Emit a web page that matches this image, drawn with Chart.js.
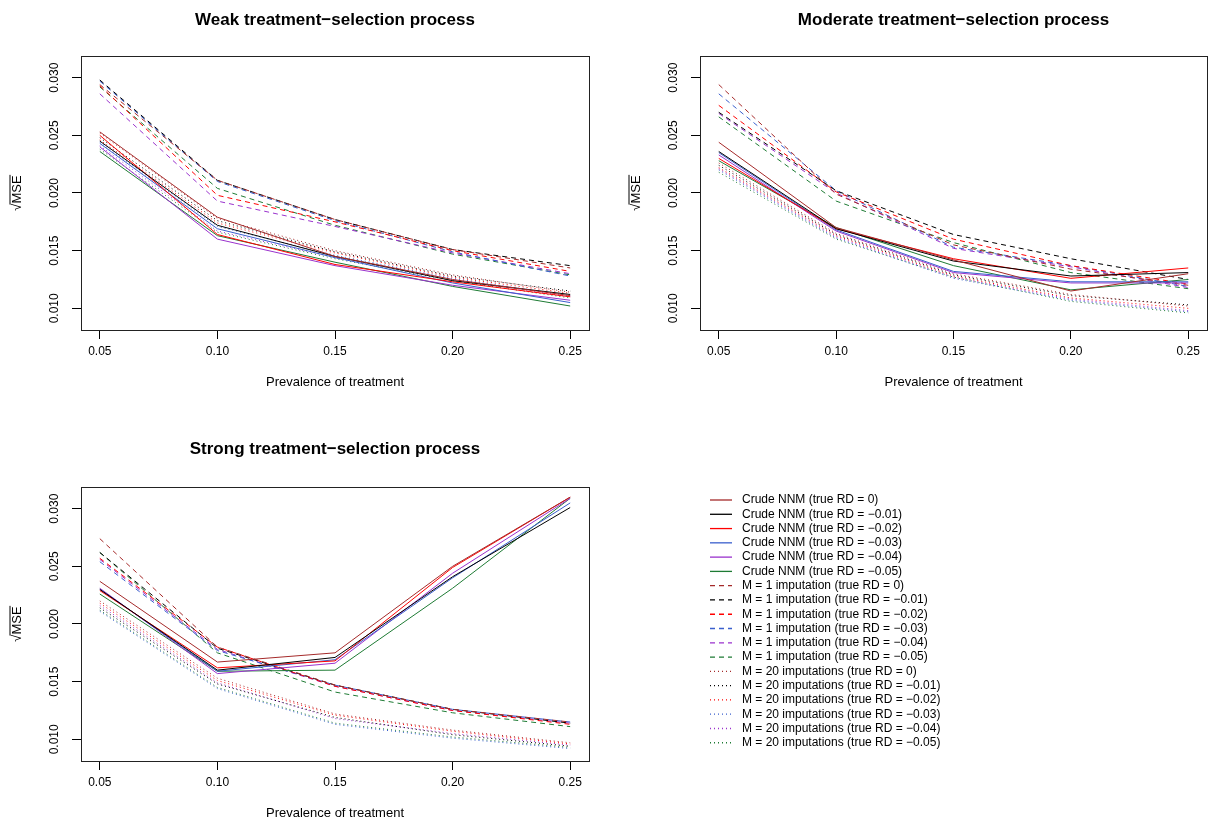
<!DOCTYPE html>
<html><head><meta charset="utf-8">
<script src="https://cdn.jsdelivr.net/npm/chart.js@4.4.1/dist/chart.umd.min.js"></script>
<style>
html,body{margin:0;padding:0;background:#fff;}
#wrap{position:relative;width:1211px;height:822px;overflow:hidden;background:#fff;}
canvas{position:absolute;}
</style></head><body>
<div id="wrap">
<canvas id="c1" width="605" height="411" style="left:0px;top:0px;width:605px;height:411px"></canvas>
<canvas id="c2" width="606" height="411" style="left:605px;top:0px;width:606px;height:411px"></canvas>
<canvas id="c3" width="1211" height="411" style="left:0px;top:411px;width:1211px;height:411px"></canvas>
</div>
<script>
// ---------------- data ----------------
const prevalence = [0.05, 0.10, 0.15, 0.20, 0.25];
const xTickValues = [0.05, 0.10, 0.15, 0.20, 0.25];
const xTickLabels = ["0.05", "0.10", "0.15", "0.20", "0.25"];
const yTickValues = [0.010, 0.015, 0.020, 0.025, 0.030];
const yTickLabels = ["0.010", "0.015", "0.020", "0.025", "0.030"];
const trueRD = ["0", "\u22120.01", "\u22120.02", "\u22120.03", "\u22120.04", "\u22120.05"];
const methodNames = ["Crude NNM", "M = 1 imputation", "M = 20 imputations"];
const panelTitles = ["Weak treatment\u2212selection process", "Moderate treatment\u2212selection process", "Strong treatment\u2212selection process"];

// rows: true RD = 0, -0.01, -0.02, -0.03, -0.04, -0.05
const weakCrude = [
  [0.0253, 0.0179, 0.0145, 0.0125, 0.0111],
  [0.0245, 0.0172, 0.0145, 0.0124, 0.0112],
  [0.0250, 0.0164, 0.0138, 0.0123, 0.0110],
  [0.0243, 0.0169, 0.0144, 0.0122, 0.0105],
  [0.0240, 0.0160, 0.0137, 0.0120, 0.0107],
  [0.0236, 0.0163, 0.0140, 0.0119, 0.0102]
];
const weakM1 = [
  [0.0294, 0.0211, 0.0177, 0.0151, 0.0135],
  [0.0298, 0.0211, 0.0177, 0.0151, 0.0137],
  [0.0293, 0.0198, 0.0175, 0.0150, 0.0132],
  [0.0297, 0.0210, 0.0176, 0.0149, 0.0128],
  [0.0286, 0.0193, 0.0171, 0.0148, 0.0130],
  [0.0292, 0.0204, 0.0172, 0.0147, 0.0129]
];
const weakM20 = [
  [0.0252, 0.0178, 0.0150, 0.0129, 0.0114],
  [0.0248, 0.0176, 0.0149, 0.0128, 0.0115],
  [0.0246, 0.0174, 0.0148, 0.0127, 0.0113],
  [0.0244, 0.0171, 0.0146, 0.0126, 0.0111],
  [0.0241, 0.0167, 0.0144, 0.0125, 0.0110],
  [0.0238, 0.0166, 0.0143, 0.0124, 0.0109]
];
const moderateCrude = [
  [0.0244, 0.0170, 0.0142, 0.0115, 0.0130],
  [0.0236, 0.0169, 0.0141, 0.0128, 0.0131],
  [0.0230, 0.0169, 0.0143, 0.0126, 0.0135],
  [0.0235, 0.0168, 0.0132, 0.0123, 0.0123],
  [0.0233, 0.0167, 0.0131, 0.0122, 0.0122],
  [0.0228, 0.0170, 0.0137, 0.0116, 0.0125]
];
const moderateM1 = [
  [0.0294, 0.0199, 0.0155, 0.0134, 0.0120],
  [0.0270, 0.0202, 0.0164, 0.0143, 0.0125],
  [0.0276, 0.0201, 0.0160, 0.0137, 0.0121],
  [0.0286, 0.0202, 0.0153, 0.0137, 0.0119],
  [0.0269, 0.0200, 0.0152, 0.0136, 0.0118],
  [0.0266, 0.0193, 0.0157, 0.0131, 0.0117]
];
const moderateM20 = [
  [0.0226, 0.0165, 0.0130, 0.0112, 0.0102],
  [0.0224, 0.0164, 0.0129, 0.0111, 0.0103],
  [0.0222, 0.0163, 0.0128, 0.0109, 0.0100],
  [0.0220, 0.0161, 0.0126, 0.0107, 0.0097],
  [0.0221, 0.0162, 0.0127, 0.0108, 0.0098],
  [0.0218, 0.0160, 0.0127, 0.0106, 0.0096]
];
const strongCrude = [
  [0.0237, 0.0167, 0.0175, 0.0250, 0.0310],
  [0.0230, 0.0160, 0.0171, 0.0241, 0.0301],
  [0.0229, 0.0162, 0.0168, 0.0249, 0.0310],
  [0.0230, 0.0159, 0.0169, 0.0240, 0.0305],
  [0.0231, 0.0157, 0.0166, 0.0244, 0.0309],
  [0.0226, 0.0159, 0.0160, 0.0231, 0.0309]
];
const strongM1 = [
  [0.0274, 0.0180, 0.0147, 0.0126, 0.0115],
  [0.0262, 0.0179, 0.0147, 0.0126, 0.0114],
  [0.0257, 0.0180, 0.0146, 0.0125, 0.0113],
  [0.0254, 0.0177, 0.0147, 0.0126, 0.0115],
  [0.0256, 0.0178, 0.0146, 0.0125, 0.0114],
  [0.0262, 0.0175, 0.0141, 0.0123, 0.0111]
];
const strongM20 = [
  [0.0220, 0.0153, 0.0122, 0.0108, 0.0097],
  [0.0214, 0.0148, 0.0119, 0.0104, 0.0094],
  [0.0218, 0.0151, 0.0121, 0.0107, 0.0096],
  [0.0211, 0.0144, 0.0113, 0.0101, 0.0092],
  [0.0216, 0.0149, 0.0118, 0.0105, 0.0095],
  [0.0212, 0.0145, 0.0114, 0.0102, 0.0093]
];

// ---------------- styles ----------------
const seriesColors = ["#A52A2A", "#000000", "#FF0000", "#3A5FCD", "#9A32CD", "#1E7B34"];
const methodDashes = [[], [5, 4], [1, 3]];
const FONT = '"Liberation Sans", Arial, Helvetica, sans-serif';

function buildDatasets(groups) {
  const ds = [];
  groups.forEach((rows, m) => {
    rows.forEach((vals, r) => {
      ds.push({
        label: methodNames[m] + " (true RD = " + trueRD[r] + ")",
        data: prevalence.map((x, i) => ({ x: x, y: vals[i] })),
        borderColor: seriesColors[r],
        backgroundColor: seriesColors[r],
        borderDash: methodDashes[m],
        borderWidth: 1,
        pointRadius: 0,
        fill: false,
        tension: 0
      });
    });
  });
  return ds;
}

const rFrame = {
  id: 'rFrame',
  afterDraw(chart, args, o) {
    const { ctx, chartArea: a } = chart;
    ctx.save();
    ctx.strokeStyle = '#222';
    ctx.lineWidth = 1;
    ctx.setLineDash([]);
    ctx.strokeRect(Math.round(a.left) + 0.5, Math.round(a.top) + 0.5, Math.round(a.right - a.left), Math.round(a.bottom - a.top));
    ctx.fillStyle = '#000';
    // main title
    ctx.font = 'bold 17px ' + FONT;
    ctx.textAlign = 'center';
    ctx.textBaseline = 'middle';
    ctx.fillText(o.title, (a.left + a.right) / 2, o.titleY);
    // y tick labels (rotated, R style)
    const ys = chart.scales.y;
    ctx.font = '12px ' + FONT;
    yTickValues.forEach((v, i) => {
      const py = ys.getPixelForValue(v);
      ctx.save();
      ctx.translate(a.left - 26, py);
      ctx.rotate(-Math.PI / 2);
      ctx.fillText(yTickLabels[i], 0, 0);
      ctx.restore();
    });
    // y axis title: sqrt(MSE)
    const cy = (a.top + a.bottom) / 2;
    ctx.save();
    ctx.translate(a.left - 64, cy);
    ctx.rotate(-Math.PI / 2);
    ctx.font = '13px ' + FONT;
    const wR = ctx.measureText('\u221A').width;
    const wM = ctx.measureText('MSE').width;
    const w = wR + wM;
    ctx.textAlign = 'left';
    ctx.fillText('\u221A', -w / 2, 0);
    ctx.fillText('MSE', -w / 2 + wR, 0);
    ctx.lineWidth = 1;
    ctx.strokeStyle = '#000';
    ctx.beginPath();
    ctx.moveTo(-w / 2 + wR - 1, -7);
    ctx.lineTo(w / 2 + 0.5, -7);
    ctx.stroke();
    ctx.restore();
    // legend
    if (o.legend) {
      const L = o.legend;
      ctx.font = '12px ' + FONT;
      ctx.textAlign = 'left';
      ctx.textBaseline = 'middle';
      chart.data.datasets.forEach((d, i) => {
        const y = L.y0 + i * L.dy;
        ctx.strokeStyle = d.borderColor;
        ctx.lineWidth = 1.3;
        ctx.setLineDash(d.borderDash);
        ctx.beginPath();
        ctx.moveTo(L.x0, y);
        ctx.lineTo(L.x1, y);
        ctx.stroke();
        ctx.setLineDash([]);
        ctx.fillStyle = '#000';
        ctx.fillText(d.label, L.tx, y);
      });
    }
    ctx.restore();
  }
};

function makePanel(id, title, groups, box) {
  const canvas = document.getElementById(id);
  return new Chart(canvas, {
    type: 'line',
    data: { datasets: buildDatasets(groups) },
    plugins: [rFrame],
    options: {
      responsive: false,
      animation: false,
      devicePixelRatio: 1,
      layout: { padding: { left: 0, top: box.T, right: box.W - box.R, bottom: 0 } },
      plugins: {
        legend: { display: false },
        title: { display: false },
        tooltip: { enabled: false },
        rFrame: { title: title, titleY: box.titleY, legend: box.legend }
      },
      scales: {
        x: {
          type: 'linear',
          min: 0.042, max: 0.258,
          afterBuildTicks: s => { s.ticks = xTickValues.map(v => ({ value: v })); },
          afterFit: s => { s.height = box.H - box.B; },
          ticks: {
            autoSkip: false, maxRotation: 0, minRotation: 0,
            padding: 5, color: '#000',
            font: { size: 12, family: FONT },
            callback: (v, i) => xTickLabels[i]
          },
          grid: { display: true, drawOnChartArea: false, drawTicks: true, tickLength: 9, color: '#000', lineWidth: 1 },
          border: { display: false },
          title: { display: true, text: 'Prevalence of treatment', color: '#000', font: { size: 13, family: FONT }, padding: { top: 0, bottom: box.xTitlePad } }
        },
        y: {
          type: 'linear',
          min: 0.00812, max: 0.03188,
          afterBuildTicks: s => { s.ticks = yTickValues.map(v => ({ value: v })); },
          afterFit: s => { s.width = box.L; },
          ticks: { display: false },
          grid: { display: true, drawOnChartArea: false, drawTicks: true, tickLength: 9, color: '#000', lineWidth: 1 },
          border: { display: false }
        }
      }
    }
  });
}

makePanel('c1', panelTitles[0], [weakCrude, weakM1, weakM20],
  { W: 605, H: 411, L: 81, R: 589, T: 56, B: 330, titleY: 20, xTitlePad: 21 });
makePanel('c2', panelTitles[1], [moderateCrude, moderateM1, moderateM20],
  { W: 606, H: 411, L: 95, R: 602, T: 56, B: 330, titleY: 20, xTitlePad: 21 });
makePanel('c3', panelTitles[2], [strongCrude, strongM1, strongM20],
  { W: 1211, H: 411, L: 81, R: 589, T: 76, B: 350, titleY: 38.5, xTitlePad: 1.2,
    legend: { x0: 710, x1: 732, tx: 742, y0: 89, dy: 14.28 } });
</script>
</body></html>
